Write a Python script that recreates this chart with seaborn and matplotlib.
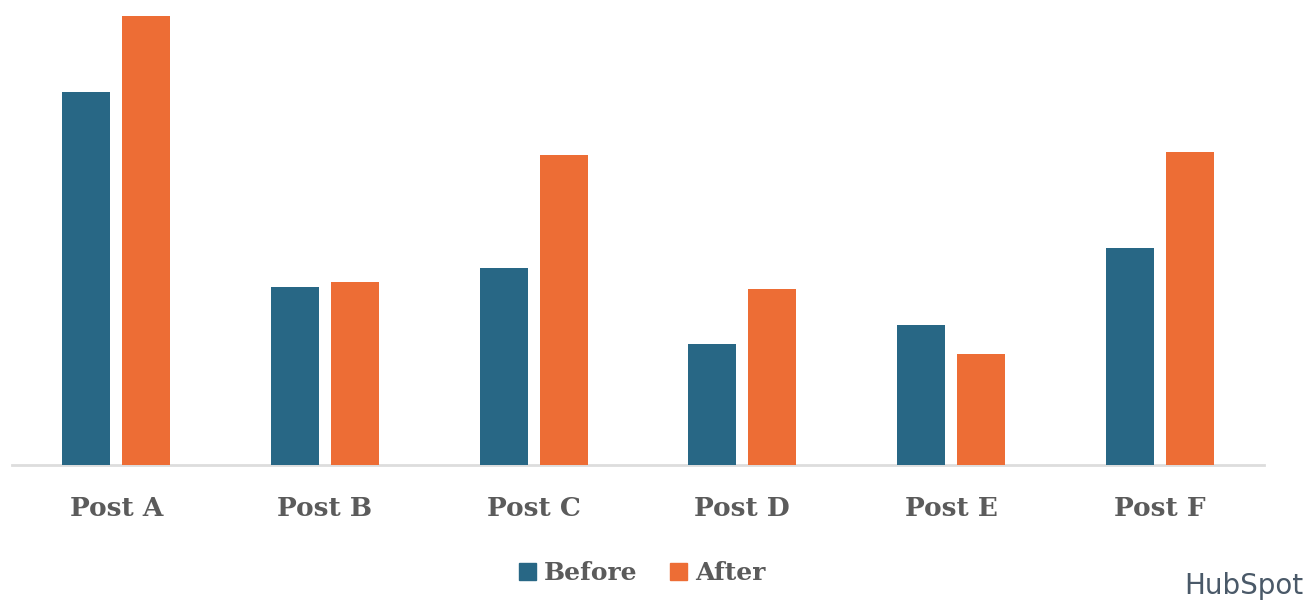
import matplotlib
matplotlib.use("Agg")
import matplotlib.pyplot as plt
import matplotlib.patches as mpatches
import pandas as pd
import seaborn as sns

posts = ["Post A", "Post B", "Post C", "Post D", "Post E", "Post F"]
before = [373, 178, 197, 121, 140, 217]
after = [449, 183, 310, 176, 111, 313]
series = ["Before", "After"]
colors = ["#286785", "#ED6D35"]

df = pd.DataFrame({
    "post": posts * 2,
    "period": [series[0]] * len(posts) + [series[1]] * len(posts),
    "value": before + after,
})

sns.set_style("white")
plt.rcParams["font.family"] = ["DejaVu Serif"]

fig = plt.figure(figsize=(13.12, 6.02), dpi=100)
ax = fig.add_axes([12 / 1312, (602 - 465) / 602, (1264 - 12) / 1312, 465 / 602])

sns.barplot(data=df, x="post", y="value", hue="period", order=posts,
            hue_order=series, palette=colors, width=0.575, gap=0.2,
            saturation=1, linewidth=0, legend=False, ax=ax)

ax.set_ylim(0, 465)
ax.set_xlim(-0.5, len(posts) - 0.5)
ax.set_xlabel("")
ax.set_ylabel("")
ax.set_yticks([])
for side in ["left", "right", "top"]:
    ax.spines[side].set_visible(False)
ax.spines["bottom"].set_color("#dddddd")
ax.spines["bottom"].set_linewidth(2)
ax.spines["bottom"].set_zorder(0)
ax.tick_params(axis="x", length=0, pad=22, labelsize=19, labelcolor="#5b5b5b")
for lbl in ax.get_xticklabels():
    lbl.set_fontweight("bold")

handles = [mpatches.Patch(color=c, label=s) for c, s in zip(colors, series)]
fig.legend(handles=handles, loc="center", bbox_to_anchor=(642 / 1312, 1 - 573 / 602),
           ncol=2, frameon=False, handlelength=0.7, handleheight=0.7,
           handletextpad=0.3, columnspacing=1.3,
           prop={"size": 18, "weight": "bold"}, labelcolor="#5b5b5b")

# brand mark
fig.text(1244 / 1312, 1 - 586 / 602, "HubSpot", ha="center", va="center",
         fontsize=20, color="#4a5968", family=["DejaVu Sans"])

fig.savefig("out.png", dpi=100)
